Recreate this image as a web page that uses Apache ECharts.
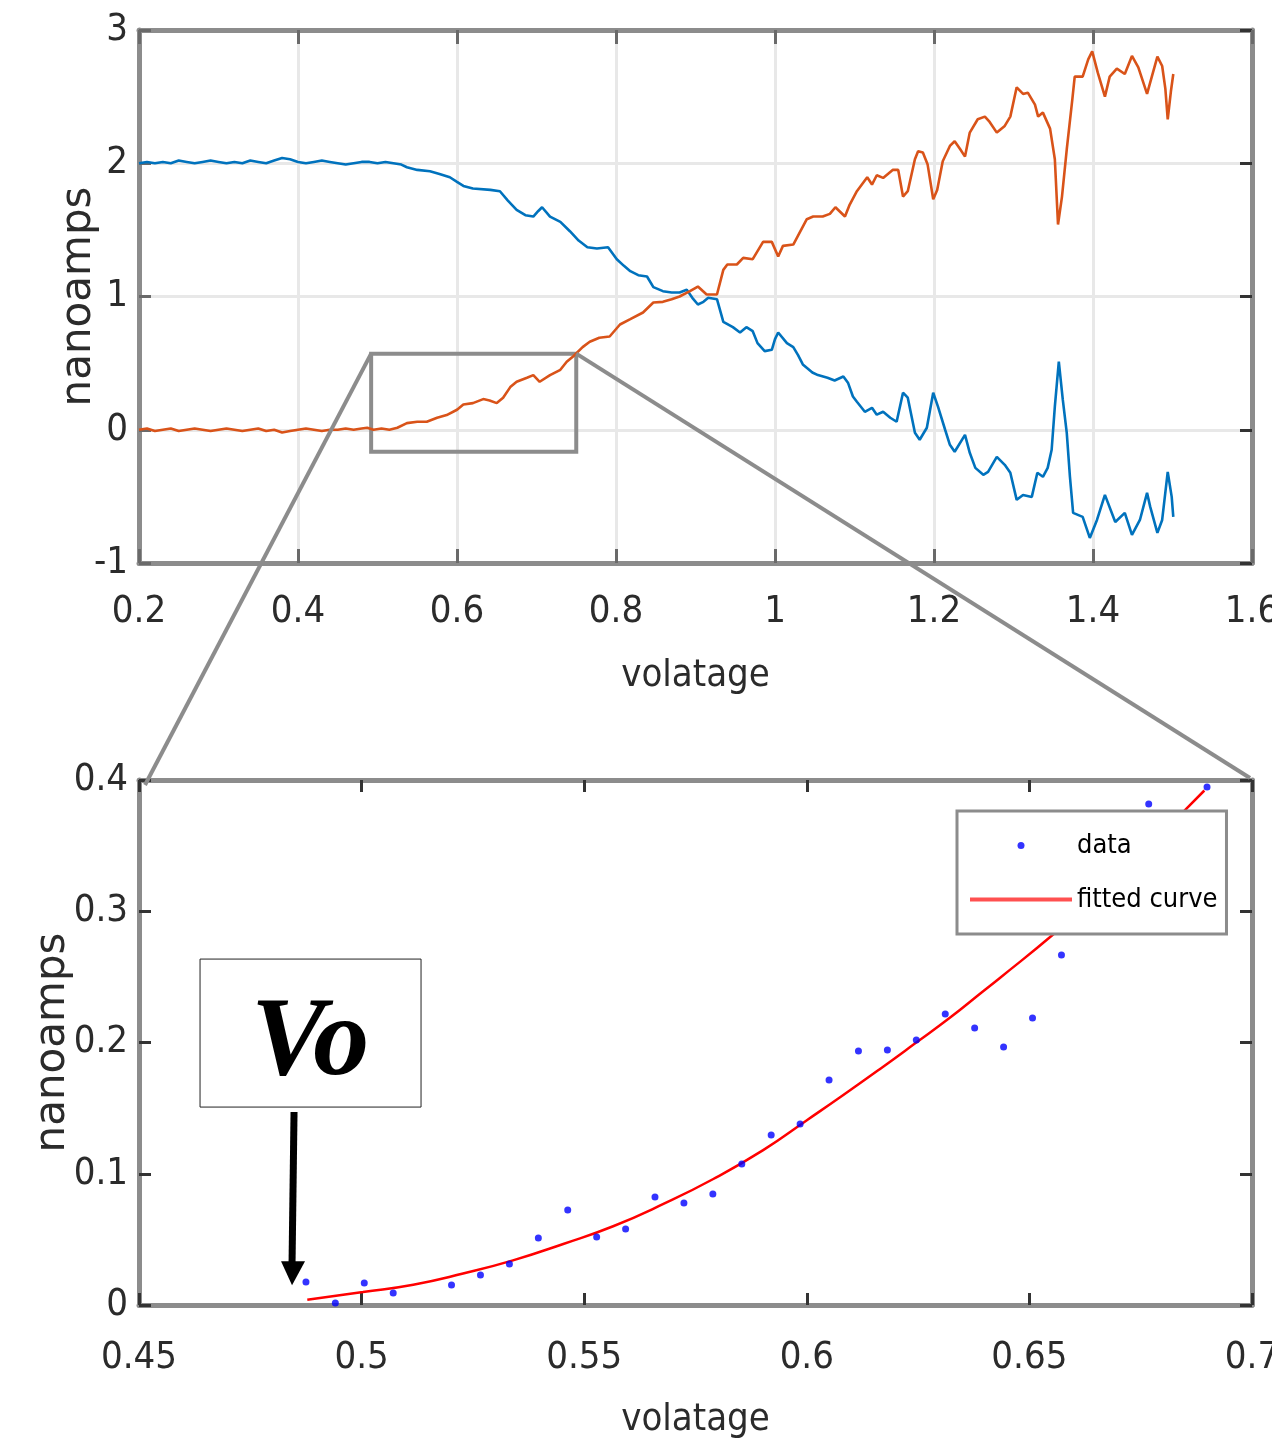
<!DOCTYPE html>
<html>
<head>
<meta charset="utf-8">
<title>nanoamps vs volatage</title>
<script src="https://cdn.jsdelivr.net/npm/echarts/dist/echarts.min.js"></script>
<style>
  html, body {margin: 0; padding: 0; background: #fff;}
  #main {width: 1272px; height: 1444px;}
</style>
</head>
<body>
<div id="main"></div>
<script type="text/javascript">
// ---- data ----
// top plot, blue trace
var blueV = [0.200,0.210,0.220,0.230,0.240,0.250,0.260,0.270,0.280,0.290,0.300,0.310,0.320,0.330,0.340,0.350,0.360,0.370,0.380,0.390,
  0.400,0.410,0.420,0.430,0.440,0.450,0.460,0.470,0.480,0.490,0.500,0.510,0.520,0.530,0.537,0.550,0.566,0.578,0.591,0.600,
  0.608,0.620,0.642,0.654,0.664,0.675,0.686,0.696,0.702,0.707,0.717,0.730,0.742,0.753,0.764,0.776,0.790,0.801,0.810,0.818,
  0.828,0.839,0.847,0.859,0.870,0.880,0.889,0.896,0.903,0.910,0.916,0.927,0.935,0.947,0.956,0.964,0.972,0.978,0.987,0.996,
  1.000,1.004,1.015,1.023,1.029,1.035,1.047,1.054,1.066,1.075,1.086,1.092,1.098,1.103,1.113,1.122,1.128,1.136,1.145,1.153,
  1.161,1.167,1.176,1.182,1.191,1.199,1.205,1.214,1.220,1.226,1.239,1.245,1.252,1.262,1.268,1.279,1.289,1.296,1.304,1.312,
  1.323,1.330,1.337,1.343,1.348,1.352,1.357,1.362,1.367,1.371,1.375,1.387,1.396,1.405,1.415,1.428,1.440,1.449,1.459,1.468,
  1.472,1.481,1.487,1.494,1.499,1.501];
var blueI = [2.00,2.01,2.00,2.01,2.00,2.02,2.01,2.00,2.01,2.02,2.01,2.00,2.01,2.00,2.02,2.01,2.00,2.02,2.04,2.03,
  2.01,2.00,2.01,2.02,2.01,2.00,1.99,2.00,2.01,2.01,2.00,2.01,2.00,1.99,1.97,1.95,1.94,1.92,1.895,1.86,
  1.83,1.81,1.80,1.79,1.72,1.65,1.61,1.60,1.64,1.67,1.60,1.56,1.49,1.42,1.37,1.36,1.37,1.28,1.23,1.19,
  1.16,1.15,1.07,1.04,1.03,1.03,1.05,0.99,0.94,0.96,0.99,0.98,0.81,0.77,0.73,0.77,0.74,0.65,0.59,0.60,
  0.68,0.73,0.65,0.62,0.56,0.49,0.43,0.41,0.39,0.37,0.40,0.35,0.25,0.21,0.135,0.165,0.113,0.135,0.09,0.06,
  0.278,0.241,-0.023,-0.075,0.015,0.278,0.173,0.0,-0.113,-0.165,-0.038,-0.173,-0.286,-0.338,-0.316,-0.203,-0.263,-0.323,-0.526,-0.489,
  -0.504,-0.323,-0.353,-0.286,-0.150,0.173,0.511,0.226,-0.023,-0.353,-0.624,-0.654,-0.812,-0.677,-0.489,-0.692,-0.624,-0.789,-0.677,-0.474,
  -0.579,-0.774,-0.677,-0.316,-0.504,-0.654];

// top plot, orange trace
var orangeV = [0.200,0.210,0.220,0.230,0.240,0.250,0.260,0.270,0.280,0.290,0.300,0.310,0.320,0.330,0.340,0.350,0.360,0.370,0.380,0.390,
  0.400,0.410,0.420,0.430,0.440,0.450,0.460,0.470,0.480,0.487,0.495,0.505,0.515,0.525,0.537,0.550,0.562,0.575,0.587,0.600,
  0.608,0.620,0.633,0.641,0.650,0.658,0.667,0.675,0.688,0.696,0.704,0.717,0.730,0.738,0.746,0.758,0.767,0.779,0.792,0.805,
  0.818,0.834,0.847,0.859,0.870,0.880,0.893,0.903,0.914,0.927,0.935,0.940,0.952,0.960,0.972,0.985,0.990,0.996,1.004,1.010,
  1.023,1.040,1.048,1.060,1.069,1.076,1.088,1.094,1.103,1.116,1.122,1.128,1.136,1.148,1.155,1.161,1.167,1.176,1.180,1.186,
  1.192,1.199,1.204,1.211,1.220,1.226,1.233,1.239,1.245,1.255,1.264,1.270,1.279,1.289,1.296,1.304,1.312,1.318,1.327,1.331,
  1.337,1.346,1.352,1.356,1.361,1.367,1.374,1.377,1.387,1.394,1.399,1.406,1.415,1.421,1.430,1.440,1.449,1.457,1.468,1.474,
  1.481,1.487,1.491,1.494,1.498,1.501];
var orangeI = [0.00,0.01,-0.01,0.00,0.01,-0.01,0.00,0.01,0.00,-0.01,0.00,0.01,0.00,-0.01,0.00,0.01,-0.01,0.00,-0.02,-0.01,
  0.00,0.01,0.00,-0.01,0.00,0.00,0.01,0.00,0.01,0.015,0.00,0.01,0.00,0.015,0.05,0.06,0.06,0.09,0.11,0.15,
  0.19,0.20,0.23,0.22,0.20,0.24,0.32,0.36,0.39,0.41,0.36,0.41,0.45,0.51,0.55,0.62,0.66,0.69,0.70,0.79,
  0.83,0.88,0.955,0.96,0.98,1.00,1.04,1.075,1.015,1.015,1.20,1.24,1.24,1.29,1.28,1.41,1.41,1.41,1.30,1.38,
  1.39,1.58,1.60,1.60,1.62,1.67,1.60,1.69,1.79,1.895,1.84,1.91,1.89,1.95,1.95,1.75,1.79,2.03,2.09,2.08,
  1.99,1.73,1.80,2.015,2.13,2.165,2.105,2.05,2.23,2.33,2.35,2.31,2.23,2.28,2.35,2.57,2.52,2.53,2.44,2.35,
  2.38,2.26,2.03,1.54,1.75,2.105,2.48,2.65,2.65,2.78,2.84,2.68,2.50,2.65,2.71,2.67,2.805,2.72,2.52,2.65,
  2.80,2.73,2.56,2.33,2.54,2.67];

// bottom plot, measured points
var dotV = [0.4875,0.4941,0.5006,0.5071,0.5136,0.5202,0.5267,0.5332,0.5397,0.5463,0.5528,0.5593,0.5659,0.5724,0.5789,0.5854,
  0.5920,0.5985,0.6050,0.6116,0.6181,0.6246,0.6311,0.6377,0.6442,0.6507,0.6572,0.6638,0.6703,0.6768,0.6834,0.6899];
var dotI = [0.0175,0.0015,0.0168,0.0091,-0.003,0.0152,0.0229,0.0312,0.051,0.0724,0.0518,0.0579,0.0823,0.0777,0.0846,0.1074,
  0.1295,0.1379,0.1714,0.1935,0.1943,0.2019,0.2217,0.2110,0.1966,0.2187,0.2667,0.300,0.335,0.3817,0.362,0.3947];

// bottom plot, fitted curve
var fitV = [0.4878,0.5003,0.5116,0.5228,0.5340,0.5453,0.5565,0.5678,0.5790,0.5902,0.6001,0.6082,0.6163,0.6242,0.6322,0.6394,
  0.6433,0.6556,0.6704,0.6855,0.6893];
var fitI = [0.004,0.0099,0.0155,0.0240,0.0340,0.0465,0.0600,0.0770,0.0960,0.1180,0.1410,0.1600,0.1795,0.1990,0.2190,0.2385,
  0.2490,0.2830,0.3270,0.3790,0.3920];

// axis ranges [min, max, step]
var topX = [0.2, 1.6, 0.2];
var topY = [-1, 3, 1];
var botX = [0.45, 0.7, 0.05];
var botY = [0, 0.4, 0.1];

// zoomed window drawn on the top plot [x0, y0, x1, y1]
var zoomBox = [0.492, -0.165, 0.75, 0.571];
// Vo marker: x, arrow start y, arrow tip y
var voArrow = [0.4846, 0.147, 0.015];

function pairs(xs, ys) {
  var out = [];
  for (var i = 0; i < xs.length; i++) out.push([xs[i], ys[i]]);
  return out;
}

var narrow = "'DejaVu Sans Condensed', 'Liberation Sans Narrow', sans-serif";
var axisGray = '#8c8c8c';

function makeAxis(grid, range, pos, opts) {
  var main = (pos == 'bottom' || pos == 'left');
  var ax = {
    gridIndex: grid,
    type: 'value',
    position: pos,
    min: range[0], max: range[1], interval: range[2],
    axisLine: {show: true, onZero: false, lineStyle: {color: axisGray, width: 5}},
    axisTick: {show: true, inside: true, length: opts.tickLen, lineStyle: {color: opts.tickColor, width: 3}},
    axisLabel: {show: main, fontFamily: narrow, fontSize: 38, color: '#2b2b2b', margin: opts.margin,
                showMinLabel: true, showMaxLabel: true, hideOverlap: false},
    splitLine: {show: main && opts.split, lineStyle: {color: '#e8e8e8', width: 3}}
  };
  if (main && opts.name) {
    ax.name = opts.name;
    ax.nameLocation = 'middle';
    ax.nameGap = opts.nameGap;
    ax.nameMoveOverlap = false;
    ax.nameTextStyle = opts.nameStyle;
  }
  return ax;
}

var xNameStyle = {fontFamily: narrow, fontSize: 38, color: '#2b2b2b'};
var yNameStyle = {fontFamily: "'DejaVu Sans', sans-serif", fontSize: 42, color: '#2b2b2b'};

var myChart = echarts.init(document.getElementById('main'));

var option = {
  animation: false,
  backgroundColor: '#fff',
  grid: [
    {left: 139, top: 30, width: 1113, height: 533, containLabel: false, outerBoundsMode: 'none'},
    {left: 139, top: 780, width: 1113, height: 525, containLabel: false, outerBoundsMode: 'none'}
  ],
  xAxis: [
    makeAxis(0, topX, 'bottom', {tickLen: 14, tickColor: '#6a6a6a', margin: 30, split: true, name: 'volatage', nameGap: 94, nameStyle: xNameStyle}),
    makeAxis(0, topX, 'top', {tickLen: 14, tickColor: '#6a6a6a'}),
    makeAxis(1, botX, 'bottom', {tickLen: 12, tickColor: '#333', margin: 34, split: false, name: 'volatage', nameGap: 96, nameStyle: xNameStyle}),
    makeAxis(1, botX, 'top', {tickLen: 12, tickColor: '#333'})
  ],
  yAxis: [
    makeAxis(0, topY, 'left', {tickLen: 12, tickColor: '#6a6a6a', margin: 11, split: true, name: 'nanoamps', nameGap: 39, nameStyle: yNameStyle}),
    makeAxis(0, topY, 'right', {tickLen: 12, tickColor: '#333'}),
    makeAxis(1, botY, 'left', {tickLen: 12, tickColor: '#333', margin: 11, split: false, name: 'nanoamps', nameGap: 65, nameStyle: yNameStyle}),
    makeAxis(1, botY, 'right', {tickLen: 12, tickColor: '#333'})
  ],
  legend: {
    data: [
      {name: 'data'},
      {name: 'fitted curve', itemStyle: {opacity: 0}, lineStyle: {color: '#ff5050', width: 4}}
    ],
    orient: 'vertical',
    left: 957, top: 811,
    padding: [21, 9, 21, 11],
    itemGap: 27,
    itemWidth: 102,
    itemHeight: 7,
    backgroundColor: '#fff',
    borderColor: axisGray,
    borderWidth: 3,
    textStyle: {fontFamily: narrow, fontSize: 27, color: '#000'},
    selectedMode: false
  },
  series: [
    {
      name: 'blue', type: 'line', xAxisIndex: 0, yAxisIndex: 0,
      data: pairs(blueV, blueI), showSymbol: false, symbol: 'none',
      lineStyle: {color: '#0072BD', width: 2.6}, z: 3
    },
    {
      name: 'orange', type: 'line', xAxisIndex: 0, yAxisIndex: 0,
      data: pairs(orangeV, orangeI), showSymbol: false, symbol: 'none',
      lineStyle: {color: '#D95319', width: 2.6}, z: 3,
      markArea: {
        silent: true,
        itemStyle: {color: 'rgba(0,0,0,0)', borderColor: axisGray, borderWidth: 4},
        data: [[{coord: [zoomBox[0], zoomBox[3]]}, {coord: [zoomBox[2], zoomBox[1]]}]]
      }
    },
    {
      name: 'data', type: 'scatter', xAxisIndex: 2, yAxisIndex: 2,
      data: pairs(dotV, dotI), symbol: 'circle', symbolSize: 7,
      itemStyle: {color: '#0000ff'}, z: 3
    },
    {
      name: 'fitted curve', type: 'line', xAxisIndex: 2, yAxisIndex: 2,
      data: pairs(fitV, fitI), showSymbol: false, symbol: 'none', smooth: true,
      lineStyle: {color: '#ff0000', width: 2.5}, itemStyle: {color: '#ff0000'}, z: 2
    }
  ]
};
myChart.setOption(option);

// connector lines, Vo box and arrow (placed once the scales exist)
var top0 = {xAxisIndex: 0, yAxisIndex: 0};
var bot0 = {xAxisIndex: 2, yAxisIndex: 2};
var p1 = myChart.convertToPixel(top0, [zoomBox[0], zoomBox[3]]);
var p2 = myChart.convertToPixel(top0, [zoomBox[2], zoomBox[3]]);
var q1 = myChart.convertToPixel(bot0, [botX[0], botY[1]]);
var q2 = myChart.convertToPixel(bot0, [botX[1], botY[1]]);
var a1 = myChart.convertToPixel(bot0, [voArrow[0], voArrow[1]]);
var a2 = myChart.convertToPixel(bot0, [voArrow[0], voArrow[2]]);

var lineStyle = {stroke: axisGray, lineWidth: 4};
myChart.setOption({
  graphic: [
    {type: 'line', z: 100, shape: {x1: p1[0], y1: p1[1], x2: q1[0] + 6, y2: q1[1] + 5}, style: lineStyle, silent: true},
    {type: 'line', z: 100, shape: {x1: p2[0], y1: p2[1], x2: q2[0] - 2, y2: q2[1] - 2}, style: lineStyle, silent: true},
    {type: 'rect', z: 100, shape: {x: a1[0] - 93, y: a1[1] - 153, width: 221, height: 148},
     style: {fill: '#fff', stroke: '#222', lineWidth: 1}, silent: true},
    {type: 'text', z: 101, x: a1[0] + 17, y: a1[1] - 67,
     style: {text: 'Vo', fontFamily: "'Liberation Serif', 'DejaVu Serif', serif", fontWeight: 'bold', fontStyle: 'italic',
             fontSize: 112, fill: '#000', textAlign: 'center', textVerticalAlign: 'middle'}, silent: true},
    {type: 'line', z: 100, shape: {x1: a1[0] + 1, y1: a1[1], x2: a2[0] - 1, y2: a2[1] - 22},
     style: {stroke: '#000', lineWidth: 7}, silent: true},
    {type: 'polygon', z: 100, shape: {points: [[a2[0] - 12, a2[1] - 24], [a2[0] + 12, a2[1] - 24], [a2[0] - 1, a2[1]]]},
     style: {fill: '#000'}, silent: true}
  ]
});
</script>
</body>
</html>
